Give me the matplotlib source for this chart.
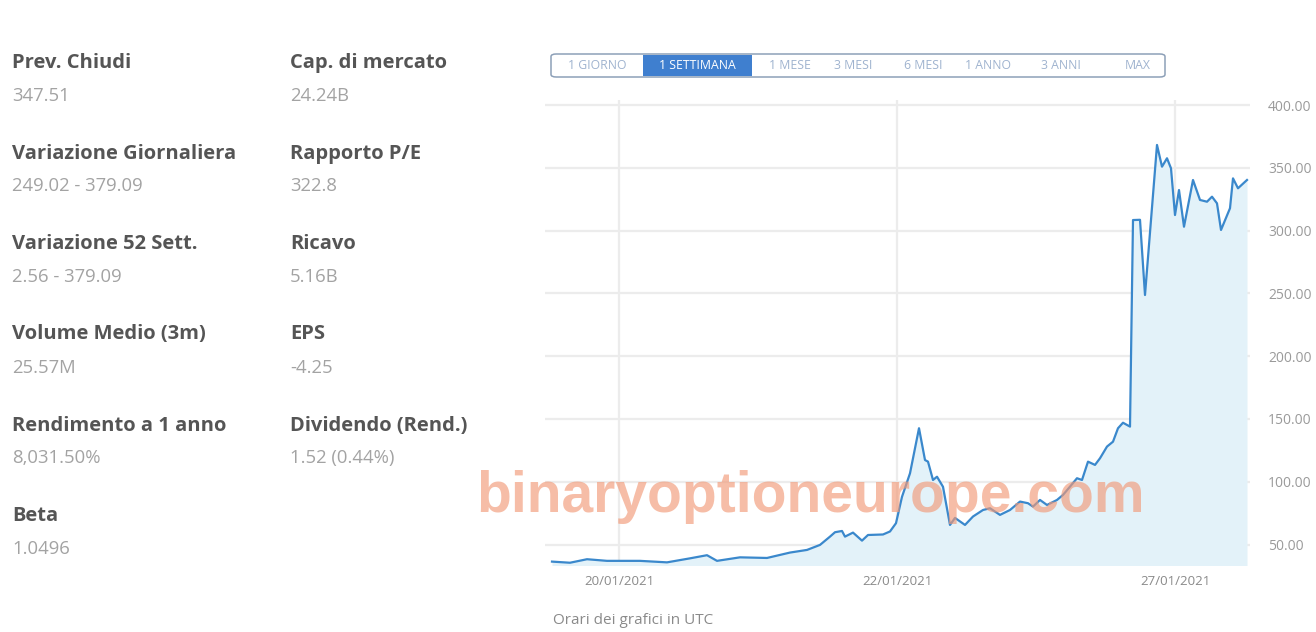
import matplotlib.pyplot as plt
from matplotlib.patches import FancyBboxPatch, Rectangle

# --- data ---
# stats panel (left)
col1_labels = ['Prev. Chiudi', 'Variazione Giornaliera', 'Variazione 52 Sett.',
               'Volume Medio (3m)', 'Rendimento a 1 anno', 'Beta']
col1_values = ['347.51', '249.02 - 379.09', '2.56 - 379.09', '25.57M', '8,031.50%', '1.0496']
col2_labels = ['Cap. di mercato', 'Rapporto P/E', 'Ricavo', 'EPS', 'Dividendo (Rend.)']
col2_values = ['24.24B', '322.8', '5.16B', '-4.25', '1.52 (0.44%)']

# range buttons
periods = ['1 GIORNO', '1 SETTIMANA', '1 MESE', '3 MESI', '6 MESI', '1 ANNO', '3 ANNI', 'MAX']
active_period = '1 SETTIMANA'

# price series (period index, price)
t = [0, 3.6, 7, 11, 17.6, 23, 27.6, 31, 33, 37.6, 43, 47.6, 51, 53.6, 55.6, 56.6, 58, 58.6,
     60.2, 62, 63.2, 66.2, 67.6, 68.8, 70, 71.6, 73.4, 74.6, 75.2, 76.2, 77, 78.2, 79.6, 80.6,
     82.6, 84.2, 86.2, 87.6, 89.6, 91.6, 93.6, 95.2, 96.2, 97.6, 99, 101, 102.2, 103.6, 105,
     106, 107.2, 108.6, 109.6, 111, 112.2, 113.2, 114.2, 115.6, 116.2, 117.6, 118.6, 121, 122,
     123, 123.8, 124.6, 125.4, 126.4, 128.2, 129.6, 131, 132, 133, 133.8, 135.6, 136.2, 137.2, 139]
price = [36.4, 35.5, 38.3, 37, 37, 35.8, 39, 41.5, 37, 39.8, 39.3, 43.6, 45.7, 49.7, 56.3, 59.8,
         60.8, 56.3, 59.5, 53.1, 57.6, 58, 60.4, 67, 88, 106.7, 142.6, 117.3, 116, 101.4, 104, 96,
         65.6, 71.2, 65.6, 72.3, 77.5, 78.9, 73.6, 77.5, 84.2, 82.9, 80.2, 85.5, 81.5, 85.5, 89.5,
         96.1, 102.8, 101.4, 116, 113.4, 118.7, 128, 131.9, 142.6, 147, 143.9, 308.4, 308.6, 248.7,
         368.2, 350.9, 357.6, 349.6, 312.4, 332.3, 303.1, 340.3, 324.4, 323, 327, 321.7, 300.5,
         317.8, 341.6, 333.7, 340.3]

date_ticks = [13.4, 69, 124.6]
date_labels = ['20/01/2021', '22/01/2021', '27/01/2021']
y_ticks = [50, 100, 150, 200, 250, 300, 350, 400]

W, H = 1316, 632
fig = plt.figure(figsize=(W / 100, H / 100), dpi=100)
fig.patch.set_facecolor('white')

def fx(px):
    return px / W

def fy(py):
    return 1 - py / H

# left stats panel
label_y = [63, 154, 244, 334, 426, 516]
value_y = [96, 186, 277, 368, 458, 549]
for col_x, labels, values in [(12, col1_labels, col1_values), (290, col2_labels, col2_values)]:
    for i, (lab, val) in enumerate(zip(labels, values)):
        fig.text(fx(col_x), fy(label_y[i]), lab, family='Open Sans', weight='bold',
                 fontsize=14.5, color='#555555', va='center', ha='left')
        fig.text(fx(col_x), fy(value_y[i]), val, family='Open Sans', fontsize=13.3,
                 color='#a3a3a3', va='center', ha='left')

# range buttons bar
btn_centers = [597, 697, 790, 853, 923, 988, 1061, 1138]
fig.patches.append(FancyBboxPatch((fx(551), fy(77)), fx(1165) - fx(551), fy(54) - fy(77),
                                  boxstyle='round,pad=0,rounding_size=0.004',
                                  transform=fig.transFigure, fc='white', ec='#8da0b8', lw=1.1))
fig.patches.append(Rectangle((fx(643), fy(76)), fx(752) - fx(643), fy(55) - fy(76),
                             transform=fig.transFigure, fc='#3f7fcf', ec='none'))
for name, cx in zip(periods, btn_centers):
    active = name == active_period
    fig.text(fx(cx), fy(65.5), name, family='Open Sans', fontsize=8.8,
             color='white' if active else '#9fb3cf', ha='center', va='center')

# price chart
ax = fig.add_axes([fx(545), fy(565), fx(1250) - fx(545), fy(100) - fy(565)])
ax.fill_between(t, price, 0, color='#e3f2f9', lw=0)
ax.plot(t, price, color='#3a88cc', lw=1.6)
ax.set_xlim(-1.4, 139.6)
ax.set_ylim(33.7, 404)
ax.set_yticks(y_ticks)
ax.set_yticklabels([f'{v:.2f}' for v in y_ticks])
ax.yaxis.tick_right()
ax.set_xticks(date_ticks)
ax.set_xticklabels(date_labels)
ax.tick_params(axis='y', length=0, pad=13, labelsize=10, labelcolor='#9a9a9a')
ax.tick_params(axis='x', length=0, pad=7, labelsize=9.5, labelcolor='#8a8a8a')
for lbl in ax.get_xticklabels() + ax.get_yticklabels():
    lbl.set_family('Open Sans')
ax.grid(True, color='#ececec', lw=1.6)
ax.set_axisbelow(True)
for s in ax.spines.values():
    s.set_visible(False)

fig.text(fx(553), fy(620), 'Orari dei grafici in UTC', family='Open Sans', fontsize=11,
         color='#8a8a8a', ha='left', va='center')

# watermark
fig.text(fx(810), fy(497), 'binaryoptioneurope.com', family='Liberation Sans', weight='bold',
         fontsize=41, color='#f29a78', alpha=0.65, ha='center', va='center')

plt.savefig('out.png', dpi=100)
